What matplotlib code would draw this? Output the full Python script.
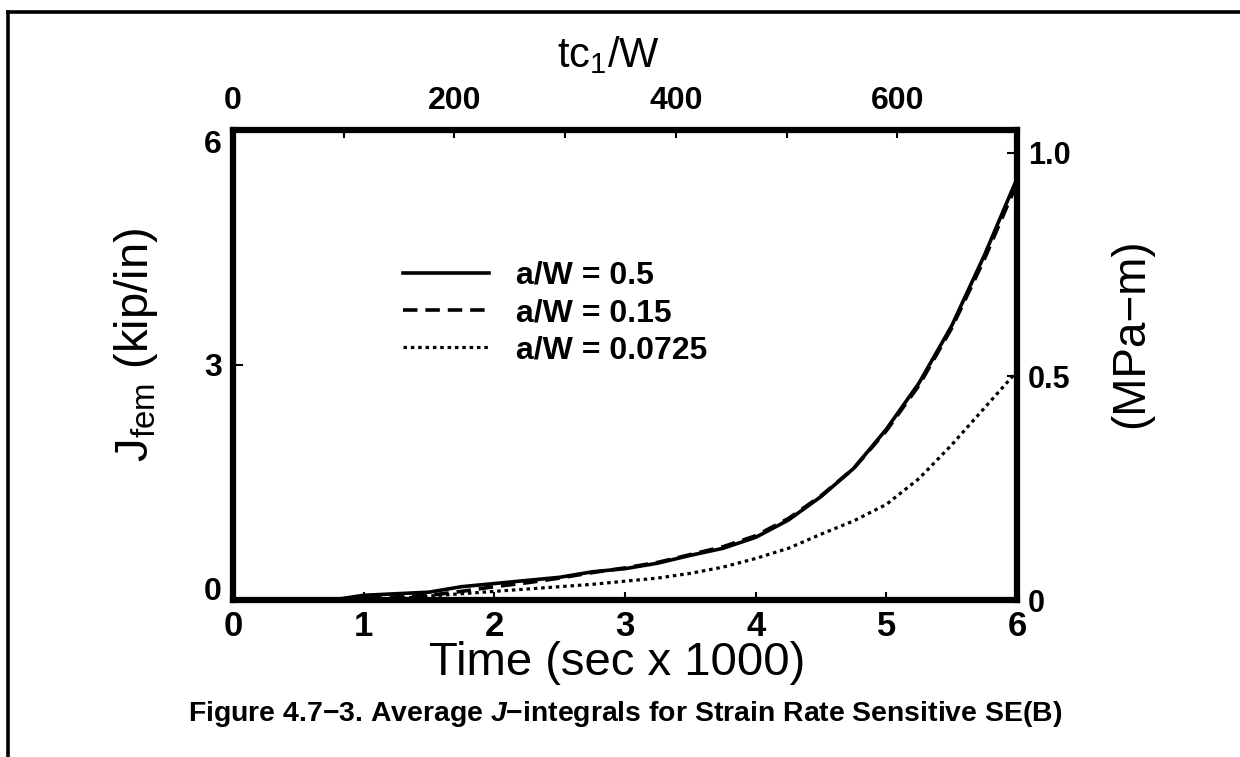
import matplotlib
matplotlib.use("Agg")
import matplotlib.pyplot as plt
from matplotlib.lines import Line2D
from matplotlib.ticker import FixedLocator

plt.rcParams['font.family'] = 'Liberation Sans'
plt.rcParams['mathtext.fontset'] = 'custom'
plt.rcParams['mathtext.rm'] = 'Liberation Sans'
plt.rcParams['mathtext.it'] = 'Liberation Sans:italic:bold'
plt.rcParams['mathtext.bf'] = 'Liberation Sans:bold'

# time (sec x 1000) and J (kip/in)
time = [0, 0.5, 0.8, 1.0, 1.25, 1.5, 1.75, 2.0, 2.25, 2.5, 2.75, 3.0,
        3.25, 3.5, 3.75, 4.0, 4.25, 4.5, 4.75, 5.0, 5.25, 5.5, 5.75, 6.0]
j_050 = [0, 0, 0.01, 0.06, 0.08, 0.10, 0.17, 0.21, 0.25, 0.29, 0.36, 0.40,
         0.47, 0.57, 0.66, 0.80, 1.02, 1.32, 1.68, 2.18, 2.77, 3.50, 4.40, 5.38]
j_015 = [0, 0, 0, 0.02, 0.04, 0.06, 0.11, 0.17, 0.22, 0.28, 0.35, 0.41,
         0.48, 0.58, 0.68, 0.82, 1.04, 1.33, 1.68, 2.16, 2.74, 3.47, 4.35, 5.32]
j_0725 = [0, 0, 0, 0.01, 0.02, 0.05, 0.08, 0.11, 0.14, 0.17, 0.20, 0.24,
          0.28, 0.34, 0.42, 0.53, 0.66, 0.84, 1.01, 1.22, 1.55, 1.98, 2.45, 2.92]

labels = ['a/W = 0.5', 'a/W = 0.15', 'a/W = 0.0725']
top_ticks = [0, 200, 400, 600]
right_ticks = [0, 0.5, 1.0]
right_ticklabels = ['0', '0.5', '1.0']
KIP_IN_TO_MPA_M = 0.17513
TC1W_MAX = 708

W, H = 1240, 757
fig = plt.figure(figsize=(W / 100, H / 100), dpi=100)
ax = fig.add_axes([233 / W, 1 - 600 / H, 784 / W, 470 / H])

lw = 2.6
ax.plot(time, j_050, 'k-', lw=lw, label=labels[0])
ax.plot(time, j_015, 'k--', lw=lw, dashes=(4.0, 2.2), label=labels[1])
ax.plot(time, j_0725, 'k:', lw=2.3, dashes=(1.1, 1.2), label=labels[2])

ax.set_xlim(0, 6)
ax.set_ylim(0, 6)
ax.set_xticks([0, 1, 2, 3, 4, 5, 6])
ax.set_yticks([0, 3, 6])
ax.tick_params(axis='x', direction='in', length=6, width=1.5, pad=7, labelsize=25)
ax.tick_params(axis='y', direction='in', length=7, width=1.5, pad=8, labelsize=23)
for lab in ax.get_xticklabels() + ax.get_yticklabels():
    lab.set_fontweight('bold')
ylabs = ax.get_yticklabels()
ylabs[0].set_va('baseline')
ylabs[-1].set_va('top')
for s in ax.spines.values():
    s.set_linewidth(4.5)

# top axis: tc1/W
axt = ax.twiny()
axt.set_xlim(0, TC1W_MAX)
axt.xaxis.set_major_locator(FixedLocator(top_ticks))
axt.xaxis.set_minor_locator(FixedLocator([100, 300, 500]))
axt.tick_params(axis='x', which='both', direction='in', length=6, width=1.5,
                pad=10, labelsize=23)
for lab in axt.get_xticklabels():
    lab.set_fontweight('bold')

# right axis: MPa-m
axr = ax.twinx()
axr.set_ylim(0, 6 * KIP_IN_TO_MPA_M)
axr.set_yticks(right_ticks)
axr.set_yticklabels(right_ticklabels)
axr.tick_params(axis='y', direction='in', length=7, width=1.5, pad=8, labelsize=22)
for lab in axr.get_yticklabels():
    lab.set_fontweight('bold')
for a in (axt, axr):
    for s in a.spines.values():
        s.set_visible(False)

leg = ax.legend(loc='upper left', bbox_to_anchor=((403 - 233) / 784, (600 - 261) / 470),
                frameon=False, borderpad=0, borderaxespad=0, handlelength=2.7,
                handletextpad=0.85, labelspacing=0.22,
                prop={'size': 23, 'weight': 'bold'})

fig.text(617 / W, 1 - 663 / H, 'Time (sec x 1000)', fontsize=34, ha='center', va='center')
fig.text(136 / W, 1 - 345 / H, r'J$_{\mathrm{fem}}$ (kip/in)', fontsize=34,
         rotation=90, ha='center', va='center')
fig.text(1131 / W, 1 - 333 / H, '(MPa\u2212m)', fontsize=33, rotation=90,
         ha='center', va='center')
fig.text(608 / W, 1 - 55 / H, r'tc$_{1}$/W', fontsize=30, ha='center', va='center')
fig.text(625 / W, 1 - 714 / H,
         'Figure 4.7\u22123. Average $J$\u2212integrals for Strain Rate Sensitive SE(B)',
         fontsize=20.4, fontweight='bold', ha='center', va='center')

# page frame
fig.add_artist(Line2D([8 / W, 8 / W], [0, 1 - 12 / H], transform=fig.transFigure,
                      color='k', lw=2.6))
fig.add_artist(Line2D([8 / W, 1], [1 - 12 / H, 1 - 12 / H], transform=fig.transFigure,
                      color='k', lw=2.6))

fig.savefig('out.png', dpi=100)
